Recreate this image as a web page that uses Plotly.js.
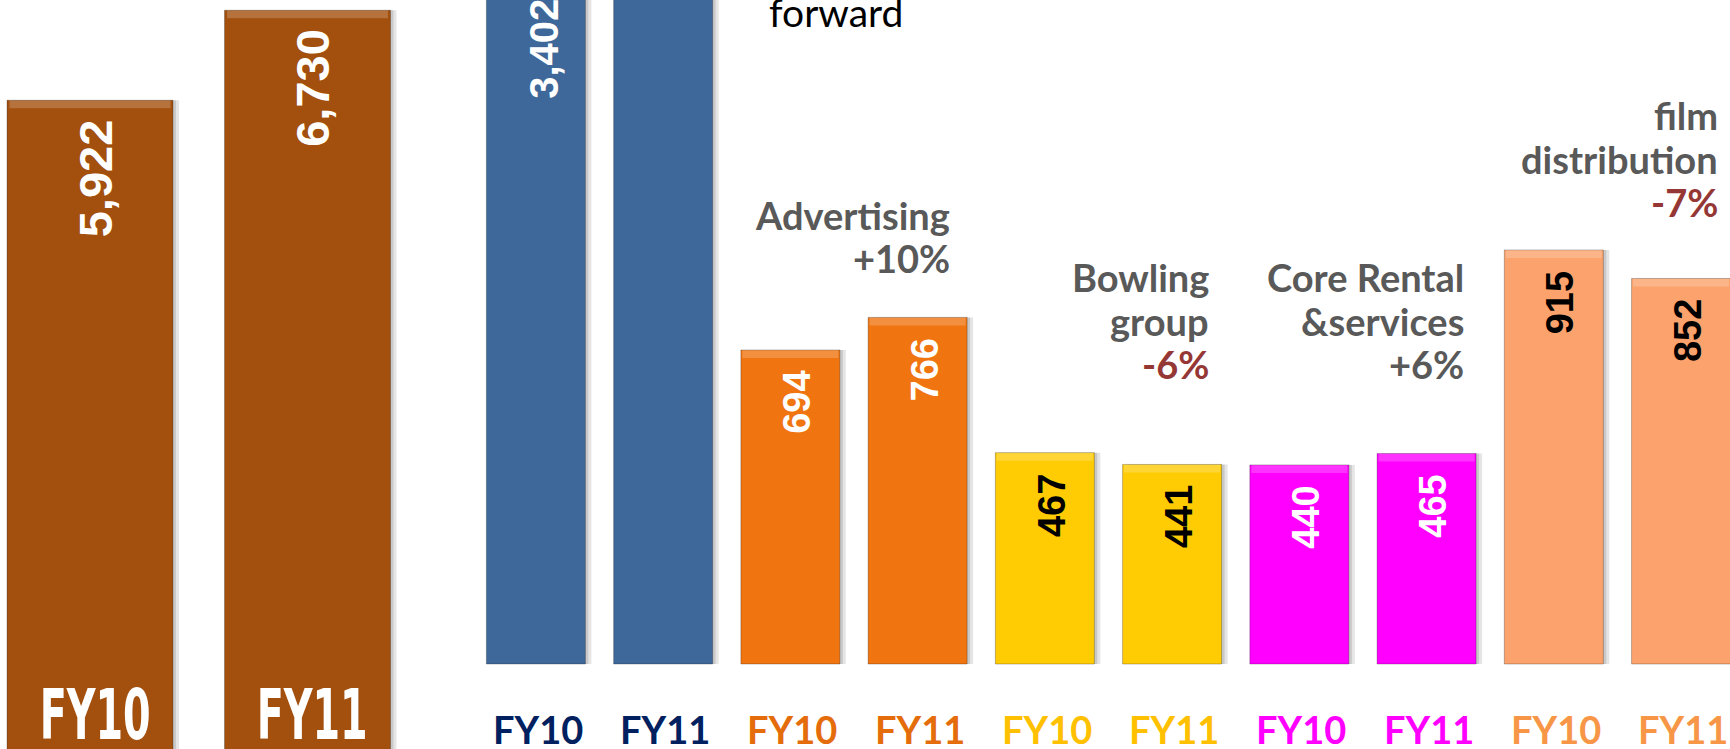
<!DOCTYPE html>
<html>
<head>
<meta charset="utf-8">
<script src="https://cdn.plot.ly/plotly-3.0.1.min.js"></script>
<style>
  html, body { margin: 0; padding: 0; background: #ffffff; }
  #chart { width: 1730px; height: 749px; }
</style>
</head>
<body>
<div id="chart"></div>
<script>
// ---------------- DATA ----------------
// Left chart: group total
const totalYears = ['FY10', 'FY11'];
const totalRevenue = [5922, 6730];

// Right chart: by segment
const yearLabels = ['FY10', 'FY11'];
const firstSegmentValues = [3402, 3950];   // FY11 value lies outside the visible crop (estimated)
const segmentNameLines = [
  ['Advertising'],
  ['Bowling', 'group'],
  ['Core Rental', '&services'],
  ['film', 'distribution']
];
const segmentFY10 = [694, 467, 440, 915];
const segmentFY11 = [766, 441, 465, 852];
const partialNote = 'forward';

// ---------------- STYLE ----------------
const W = 1730, H = 749;
const brown = '#A34F0D';
const blue = '#3E6899';
const segColors = ['#F07511', '#FFCC04', '#FF00FF', '#FCA26C'];
const segValueColors = ['#ffffff', '#000000', '#ffffff', '#000000'];
const axisLabelColors = ['#002060', '#E46C0A', '#FFC000', '#FF00FF', '#F79646'];
const grey = '#595959';
const darkRed = '#953735';

const LATO = 'Lato, "Open Sans", sans-serif';
const ARIAL = '"Liberation Sans", Arial, sans-serif';
const NARROW = '"Liberation Sans Narrow", "DejaVu Sans Condensed", "DejaVu Sans", sans-serif';

const pxToPaper = p => (H - p) / H;

// geometry of the three value scales (pixels)
const g1 = { dl: 0, dr: 420, c0: 90, step: 217.5, zero: 760, k: 0.1114, bw: 0.763 };
const g2 = { dl: 430, dr: 1730, c0: 535.9, step: 127.24, bw: 0.778 };
const y2g = { zero: 664, k: 0.2014 };
const y3g = { zero: 664, k: 0.4525 };

const range1 = [(g1.zero - H) / g1.k, g1.zero / g1.k];
const range2 = [(y2g.zero - H) / y2g.k, y2g.zero / y2g.k];
const range3 = [(y3g.zero - H) / y3g.k, y3g.zero / y3g.k];
const toPaper = (v, r) => (v - r[0]) / (r[1] - r[0]);

const fmt = v => v.toLocaleString('en-US');

// ---------------- TRACES ----------------
const traces = [];

function addBars(xs, ys, colors, xaxis, yaxis, bw, step, pxPerUnit) {
  const sh = 6 / step;
  traces.push({
    type: 'bar', x: xs, y: ys, xaxis, yaxis, width: bw,
    offset: -bw / 2 + sh, marker: { color: 'rgba(0,0,0,0.10)', line: { width: 0 } },
    hoverinfo: 'skip'
  });
  traces.push({
    type: 'bar', x: xs, y: ys, xaxis, yaxis, width: bw,
    offset: -bw / 2 + sh / 2, marker: { color: 'rgba(0,0,0,0.12)', line: { width: 0 } },
    hoverinfo: 'skip'
  });
  traces.push({
    type: 'bar', x: xs, y: ys, xaxis, yaxis, width: bw,
    marker: { color: colors, line: { width: 1, color: 'rgba(0,0,0,0.25)' } },
    hoverinfo: 'x+y'
  });
  const hUnits = 8 / pxPerUnit;
  traces.push({
    type: 'bar', x: xs, y: ys.map(() => hUnits), base: ys.map(v => v - hUnits),
    xaxis, yaxis, width: bw * 0.97,
    marker: { color: 'rgba(255,255,255,0.20)', line: { width: 0 } },
    hoverinfo: 'skip'
  });
}

const leftX = totalYears.map((_, i) => i);
addBars(leftX, totalRevenue, totalRevenue.map(() => brown), 'x', 'y', g1.bw, g1.step, g1.k);

const blueX = yearLabels.map((_, i) => i);
addBars(blueX, firstSegmentValues, firstSegmentValues.map(() => blue), 'x2', 'y2', g2.bw, g2.step, y2g.k);

const segX = [], segY = [], segC = [];
segmentFY10.forEach((v, g) => {
  segX.push(2 + 2 * g, 3 + 2 * g);
  segY.push(segmentFY10[g], segmentFY11[g]);
  segC.push(segColors[g], segColors[g]);
});
addBars(segX, segY, segC, 'x2', 'y3', g2.bw, g2.step, y3g.k);

// ---------------- ANNOTATIONS ----------------
const ann = [];

totalRevenue.forEach((v, i) => ann.push({
  xref: 'x', yref: 'paper', x: i, y: toPaper(v, range1), text: '<b>' + fmt(v) + '</b>', textangle: -90,
  xanchor: 'center', yanchor: 'top', xshift: 5, yshift: -17, showarrow: false,
  font: { family: ARIAL, size: 47, color: '#ffffff' }
}));
firstSegmentValues.forEach((v, i) => ann.push({
  xref: 'x2', yref: 'paper', x: i, y: toPaper(v, range2), text: '<b>' + fmt(v) + '</b>', textangle: -90,
  xanchor: 'center', yanchor: 'top', xshift: 8, yshift: -18, showarrow: false,
  font: { family: ARIAL, size: 40, color: '#ffffff' }
}));
segX.forEach((x, j) => {
  const g = Math.floor(j / 2);
  ann.push({
    xref: 'x2', yref: 'paper', x: x, y: toPaper(segY[j], range3), text: '<b>' + fmt(segY[j]) + '</b>', textangle: -90,
    xanchor: 'center', yanchor: 'top', xshift: 7, yshift: -19, showarrow: false,
    font: { family: ARIAL, size: 38, color: segValueColors[g] }
  });
});

// big year labels inside left bars (condensed afterwards)
const bigLabelStart = ann.length;
totalYears.forEach((t, i) => ann.push({
  xref: 'x', yref: 'paper', x: i, y: pxToPaper(740 + 0.236 * 70 + 1), text: '<b>' + t + '</b>',
  xanchor: 'center', yanchor: 'bottom', xshift: 4.5, showarrow: false,
  font: { family: NARROW, size: 70, color: '#ffffff' }
}));

// year labels under the segment bars
const allSegX = blueX.concat(segX);
allSegX.forEach((x, j) => {
  const g = Math.floor(j / 2);
  ann.push({
    xref: 'x2', yref: 'paper', x: x, y: pxToPaper(745 + 0.213 * 38 + 1),
    text: '<b>' + yearLabels[j % 2] + '</b>',
    xanchor: 'center', yanchor: 'bottom', xshift: 2, showarrow: false,
    font: { family: LATO, size: 38, color: axisLabelColors[g] }
  });
});

// segment captions with change
const captionRight = [952, 1211, 1466, 1720];
const captionLastBaseline = [274, 380, 380, 218];
const lineGap = 43.5;
const capSize = 38;
segmentNameLines.forEach((lines, g) => {
  const change = Math.round((segmentFY11[g] / segmentFY10[g] - 1) * 100);
  const changeText = (change > 0 ? '+' : '') + change + '%';
  const all = lines.concat([changeText]);
  all.forEach((t, li) => {
    const baseline = captionLastBaseline[g] - (all.length - 1 - li) * lineGap;
    const isChange = li === all.length - 1;
    ann.push({
      xref: 'paper', yref: 'paper', x: captionRight[g] / W, y: pxToPaper(baseline + 0.213 * capSize + 1),
      text: '<b>' + t.replace('&', '&amp;') + '</b>', xanchor: 'right', yanchor: 'bottom', showarrow: false,
      font: { family: LATO, size: capSize, color: isChange && change < 0 ? darkRed : grey }
    });
  });
});

ann.push({
  xref: 'paper', yref: 'paper', x: 767 / W, y: pxToPaper(28 + 0.213 * 39 + 1),
  text: partialNote, xanchor: 'left', yanchor: 'bottom', showarrow: false,
  font: { family: LATO, size: 39, color: '#000000' }
});

// ---------------- LAYOUT ----------------
const layout = {
  width: W, height: H,
  margin: { l: 0, r: 0, t: 0, b: 0, pad: 0 },
  paper_bgcolor: '#ffffff', plot_bgcolor: 'rgba(0,0,0,0)',
  showlegend: false, barmode: 'overlay',
  xaxis: { domain: [g1.dl / W, g1.dr / W], range: [(g1.dl - g1.c0) / g1.step, (g1.dr - g1.c0) / g1.step],
           visible: false, fixedrange: true, anchor: 'y' },
  yaxis: { domain: [0, 1], range: range1, visible: false, fixedrange: true, anchor: 'x' },
  xaxis2: { domain: [g2.dl / W, g2.dr / W], range: [(g2.dl - g2.c0) / g2.step, (g2.dr - g2.c0) / g2.step],
            visible: false, fixedrange: true, anchor: 'y2' },
  yaxis2: { domain: [0, 1], range: range2, visible: false, fixedrange: true, anchor: 'x2' },
  yaxis3: { domain: [0, 1], range: range3, visible: false, fixedrange: true, anchor: 'x2', overlaying: 'y2' },
  annotations: ann
};

Plotly.newPlot('chart', traces, layout, { staticPlot: true, displayModeBar: false }).then(gd => {
  // condense the big white year labels to mimic the heavy condensed face
  const targetWidth = 111;
  totalYears.forEach((_, i) => {
    const grp = gd.querySelector('.annotation[data-index="' + (bigLabelStart + i) + '"]');
    if (!grp) return;
    const txt = grp.querySelector('text.annotation-text');
    if (!txt) return;
    const bb = txt.getBBox();
    const sx = Math.min(1, targetWidth / bb.width);
    const cx = bb.x + bb.width / 2;
    txt.setAttribute('transform', 'translate(' + (cx * (1 - sx)) + ',0) scale(' + sx + ',1)');
  });
});
</script>
</body>
</html>
